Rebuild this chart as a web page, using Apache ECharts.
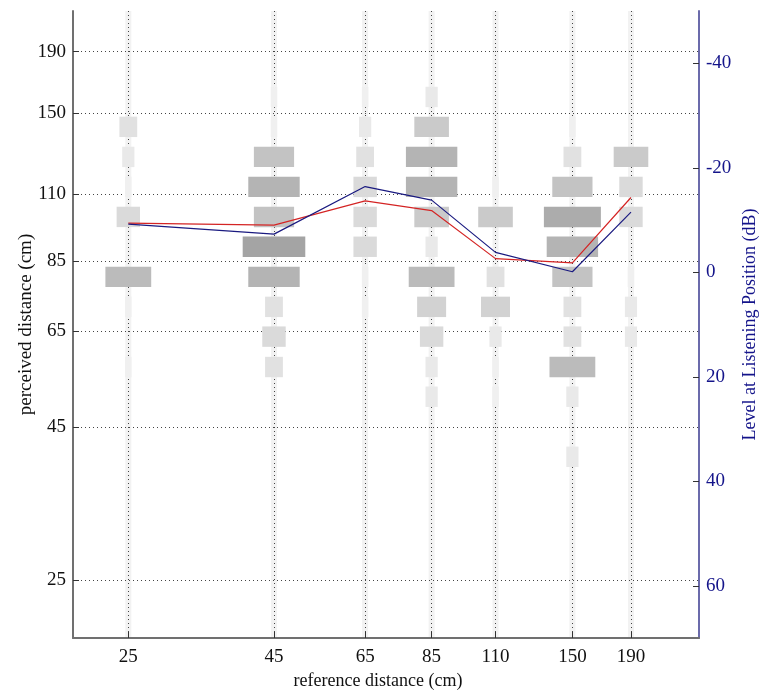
<!DOCTYPE html>
<html><head><meta charset="utf-8">
<script src="https://cdn.jsdelivr.net/npm/echarts@6/dist/echarts.min.js"></script>
<style>html,body{margin:0;padding:0;background:#fff}#c{width:763px;height:694px}</style>
</head><body><div id="c"></div>
<script>
// ---- data ----
const refDistances = [25, 45, 65, 85, 110, 150, 190];
const distanceTicks = [25, 45, 65, 85, 110, 150, 190];
const levelTicks = [-40, -20, 0, 20, 40, 60];
// perceived-distance response levels (cm), top to bottom
const perceivedLevels = [159.6, 142.3, 126.8, 113.0, 100.7, 89.8, 80.0, 71.3, 63.6, 56.6, 50.5, 45.0, 40.1];
// number of responses at each perceived level, per reference distance
const counts25  = [0, 3, 2, 1, 4, 0, 8, 1, 0, 1, 0, 0, 0];
const counts45  = [1, 1, 7, 9, 7, 11, 9, 3, 4, 3, 0, 0, 0];
const counts65  = [1, 2, 3, 4, 4, 4, 1, 1, 0, 0, 0, 0, 0];
const counts85  = [2, 6, 9, 9, 6, 2, 8, 5, 4, 2, 2, 0, 0];
const counts110 = [0, 0, 0, 1, 6, 0, 3, 5, 2, 1, 1, 0, 0];
const counts150 = [0, 1, 3, 7, 10, 9, 7, 3, 3, 8, 2, 0, 2];
const counts190 = [0, 0, 6, 4, 4, 0, 1, 2, 2, 0, 0, 0, 0];
// mean perceived distance (cm) and level at listening position (dB)
const meanPerceived = [98.3, 97.6, 107.1, 103.2, 85.8, 84.4, 108.5];
const levelDb = [-9.2, -7.3, -16.4, -13.8, -3.8, -0.1, -11.5];

// ---- build ----
const allCounts = [counts25, counts45, counts65, counts85, counts110, counts150, counts190];
const cellData = [];
allCounts.forEach((col, i) => {
  col.forEach((c, j) => { if (c > 0) cellData.push([refDistances[i], perceivedLevels[j], c]); });
});
const HALF = Math.pow(10, 0.34 / 20);
const SERIF = 'Liberation Serif';
const NAVY = '#14148a';

const chart = echarts.init(document.getElementById('c'), null, {renderer: 'canvas'});
chart.setOption({
  animation: false,
  backgroundColor: '#fff',
  grid: {left: 73, right: 64, top: 11, bottom: 56, containLabel: false, outerBoundsMode: 'none'},
  xAxis: [{
    type: 'log', logBase: 10, min: 20, max: 250,
    axisLine: {show: true, onZero: false, lineStyle: {color: '#707070', width: 2}},
    axisTick: {show: true, inside: true, length: 6, customValues: distanceTicks, lineStyle: {color: '#333', width: 1}},
    axisLabel: {customValues: distanceTicks, formatter: v => String(Math.round(v)), color: '#111',
      fontFamily: SERIF, fontSize: 19, margin: 10},
    splitLine: {show: true, lineStyle: {color: '#444', type: [1, 3], width: 1}},
    minorTick: {show: false}, minorSplitLine: {show: false},
    name: 'reference distance (cm)', nameLocation: 'middle', nameGap: 34, nameMoveOverlap: false,
    nameTextStyle: {color: '#111', fontFamily: SERIF, fontSize: 18, padding: [0, 16, 0, 0]}
  }],
  yAxis: [{
    type: 'log', logBase: 10, min: 20, max: 222, position: 'left',
    axisLine: {show: true, onZero: false, lineStyle: {color: '#707070', width: 2}},
    axisTick: {show: true, inside: true, length: 6, customValues: distanceTicks, lineStyle: {color: '#333', width: 1}},
    axisLabel: {customValues: distanceTicks, formatter: v => String(Math.round(v)), color: '#111',
      fontFamily: SERIF, fontSize: 19, margin: 7},
    splitLine: {show: true, lineStyle: {color: '#444', type: [1, 3], width: 1}},
    minorTick: {show: false}, minorSplitLine: {show: false},
    name: 'perceived distance (cm)', nameLocation: 'middle', nameRotate: 90, nameGap: 37, nameMoveOverlap: false,
    nameTextStyle: {color: '#111', fontFamily: SERIF, fontSize: 19}
  }, {
    type: 'value', min: -50, max: 70, inverse: true, position: 'right',
    axisLine: {show: true, onZero: false, lineStyle: {color: '#6b6bab', width: 2}},
    axisTick: {show: true, inside: true, length: 6, customValues: levelTicks, lineStyle: {color: '#333', width: 1}},
    axisLabel: {customValues: levelTicks, color: NAVY, fontFamily: SERIF, fontSize: 19, margin: 7},
    splitLine: {show: false},
    name: 'Level at Listening Position (dB)', nameLocation: 'middle', nameRotate: 90, nameGap: 42, nameMoveOverlap: false,
    nameTextStyle: {color: NAVY, fontFamily: SERIF, fontSize: 18}
  }],
  series: [{
    type: 'custom', name: 'band', z: -1, silent: true,
    xAxisIndex: 0, yAxisIndex: 0,
    data: refDistances.map(d => [d, 100]),
    renderItem: (params, api) => {
      const p = api.coord([api.value(0), api.value(1)]);
      const cs = params.coordSys;
      return {type: 'rect', shape: {x: p[0] - 3, y: cs.y, width: 6, height: cs.height},
        style: {fill: '#f2f2f2'}};
    }
  }, {
    type: 'custom', name: 'responses', silent: true,
    xAxisIndex: 0, yAxisIndex: 0,
    data: cellData,
    renderItem: (params, api) => {
      const x = api.value(0), y = api.value(1), c = api.value(2);
      const p = api.coord([x, y]);
      const top = api.coord([x, y * HALF]);
      const bot = api.coord([x, y / HALF]);
      const w = 5.6 * c + 1;
      const g = Math.round(248 - 7.6 * c);
      return {type: 'rect', shape: {x: p[0] - w / 2, y: top[1], width: w, height: bot[1] - top[1]},
        style: {fill: 'rgb(' + g + ',' + g + ',' + g + ')'}};
    }
  }, {
    type: 'line', name: 'perceived', xAxisIndex: 0, yAxisIndex: 0,
    data: refDistances.map((d, i) => [d, meanPerceived[i]]),
    showSymbol: false, symbol: 'none', z: 5,
    lineStyle: {color: '#d42424', width: 1.2}
  }, {
    type: 'line', name: 'level', xAxisIndex: 0, yAxisIndex: 1,
    data: refDistances.map((d, i) => [d, levelDb[i]]),
    showSymbol: false, symbol: 'none', z: 5,
    lineStyle: {color: '#1a1a80', width: 1.2}
  }]
});
</script>
</body></html>
